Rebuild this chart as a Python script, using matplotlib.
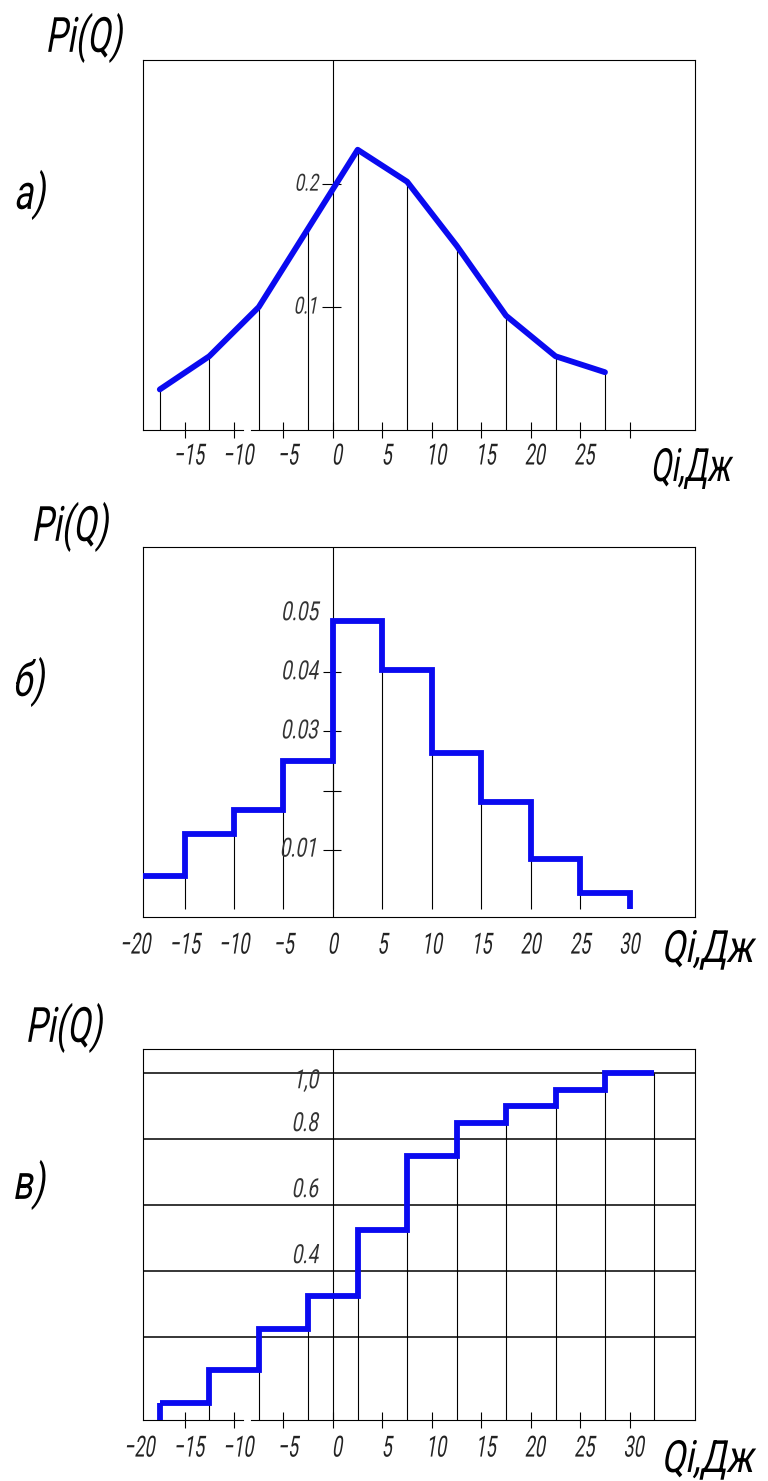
import matplotlib
matplotlib.use('Agg')
import matplotlib.pyplot as plt
from matplotlib.patheffects import AbstractPathEffect
from matplotlib.transforms import Affine2D

# --- data ------------------------------------------------------------
# a) probability polygon, points at the interval midpoints
q_mid = [-17.5, -12.5, -7.5, -2.5, 2.5, 7.5, 12.5, 17.5, 22.5, 27.5]
p_poly = [0.033, 0.060, 0.100, 0.164, 0.228, 0.202, 0.150, 0.093, 0.060, 0.047]

# b) histogram
hist_edges = [-20, -15, -10, -5, 0, 5, 10, 15, 20, 25, 30]
p_hist = [0.0056, 0.0126, 0.0167, 0.0250, 0.0487, 0.0404, 0.0264, 0.0181, 0.0084, 0.0027]

# c) cumulative distribution
cdf_edges = [-17.5, -12.5, -7.5, -2.5, 2.5, 7.5, 12.5, 17.5, 22.5, 27.5, 32.5]
p_cdf = [0.0, 0.10, 0.225, 0.325, 0.525, 0.75, 0.85, 0.90, 0.95, 1.0]

xt_a = [-15, -10, -5, 0, 5, 10, 15, 20, 25, 30]
xl_a = ['−15', '−10', '−5', '0', '5', '10', '15', '20', '25', '']
xt_bc = [-20, -15, -10, -5, 0, 5, 10, 15, 20, 25, 30]
xl_bc = ['−20', '−15', '−10', '−5', '0', '5', '10', '15', '20', '25', '30']

yt_a = [0.1, 0.2]
yl_a = ['0.1', '0.2']
yt_b = [0.01, 0.02, 0.03, 0.04]
yl_b = ['0.01', '', '0.03', '0.04', '0.05']
yl_b_pos = [0.01, 0.02, 0.03, 0.04, 0.05]
grid_c = [0.2, 0.4, 0.6, 0.8, 1.0]
yl_c = ['', '0.4', '0.6', '0.8', '1,0']

BLUE = '#0a0af0'
INK = '#222222'
XMIN, XMAX = -19.2, 36.6


class Narrow(AbstractPathEffect):
    """squeeze and slant glyphs a bit, like a drafting font"""

    def __init__(self, sx=0.6, skew=14, anchor='center'):
        super().__init__()
        self.sx, self.skew, self.anchor = sx, skew, anchor

    def draw_path(self, renderer, gc, tpath, affine, rgbFace=None):
        ext = tpath.get_extents(affine)
        if self.anchor == 'right':
            x0 = ext.x1
        else:
            x0 = (ext.x0 + ext.x1) / 2
        y0 = (ext.y0 + ext.y1) / 2
        t = Affine2D().translate(-x0, -y0).skew_deg(self.skew, 0).scale(self.sx, 1).translate(x0, y0)
        renderer.draw_path(gc, tpath, affine + t, rgbFace)


plt.rcParams['font.family'] = ['Roboto', 'DejaVu Sans']
plt.rcParams['axes.linewidth'] = 0.8

W, H = 768, 1481
fig = plt.figure(figsize=(W / 100, H / 100), dpi=100)


def make_box(top, bottom, ylim):
    ax = fig.add_axes([143 / W, 1 - bottom / H, 552 / W, (bottom - top) / H])
    ax.set_xlim(XMIN, XMAX)
    ax.set_ylim(*ylim)
    ax.set_yticks([])
    ax.axvline(0, color='k', lw=0.8, zorder=1)
    return ax


def broken_axis(ax):
    # bottom line with the small gap next to -10
    ax.spines['bottom'].set_visible(False)
    tr = ax.get_xaxis_transform()
    ax.plot([XMIN, -9.1], [0, 0], color='k', lw=0.8, transform=tr, clip_on=False)
    ax.plot([-8.3, XMAX], [0, 0], color='k', lw=0.8, transform=tr, clip_on=False)


def x_labels(ax, ticks, labels, gap, shift=4):
    for t, s in zip(ticks, labels):
        ax.annotate(s, xy=(t, 0), xycoords=('data', 'axes fraction'), xytext=(shift, -gap),
                    textcoords='offset points', ha='center', va='top', fontsize=21,
                    color=INK, annotation_clip=False, path_effects=[Narrow(0.62)])


def y_label(ax, y, s, dy=0, va='center', size=19):
    ax.annotate(s, xy=(-1.3, y), xytext=(0, dy), textcoords='offset points', ha='right',
                va=va, fontsize=size, color='#333333', path_effects=[Narrow(0.72, anchor='right')])


def fig_text(x, y, s, sx, size=35):
    fig.text(x / W, 1 - y / H, s, ha='center', va='center', fontsize=size, color='k',
             path_effects=[Narrow(sx)])


# ---- a) ----
ax = make_box(60, 430, (0, 0.301))
ax.vlines(q_mid, 0, p_poly, color='k', lw=0.8)
ax.plot(q_mid, p_poly, color=BLUE, lw=4.2, solid_joinstyle='round', solid_capstyle='round', zorder=3)
ax.set_xticks(xt_a, [''] * len(xt_a))
ax.tick_params(axis='x', direction='inout', length=12, width=0.8)
broken_axis(ax)
x_labels(ax, xt_a, xl_a, 9)
ax.hlines(yt_a, -1.1, 0.8, color='k', lw=0.8)
for y, s in zip(yt_a, yl_a):
    y_label(ax, y, s, size=17)
fig_text(86, 38, 'Pi(Q)', 0.7)
fig_text(32, 195, 'а)', 0.72)
fig_text(692, 468, 'Qi,Дж', 0.66, 33)

# ---- b) ----
ax = make_box(547, 917, (-0.0014, 0.0612))
ax.vlines(hist_edges[1:-1], 0, [max(a, b) for a, b in zip(p_hist[:-1], p_hist[1:])], color='k', lw=0.8)
ax.stairs(p_hist, hist_edges, baseline=0, color=BLUE, lw=4.2, zorder=3)
ax.set_xticks([])
x_labels(ax, xt_bc, xl_bc, 10.5, shift=1)
ax.hlines(yt_b, -1.0, 0.8, color='k', lw=0.8)
for y, s in zip(yl_b_pos, yl_b):
    if s:
        y_label(ax, y, s)
fig_text(72, 527, 'Pi(Q)', 0.7)
fig_text(31, 682, 'б)', 0.72)
fig_text(709, 950, 'Qi,Дж', 0.78, 32)

# ---- c) ----
ax = make_box(1049, 1420, (-0.05, 1.074))
ax.hlines(grid_c, XMIN, XMAX, color='k', lw=1.1)
tops = [max(a, b) for a, b in zip(p_cdf[:-1], p_cdf[1:])]
ax.vlines(cdf_edges[1:-1], -0.05, tops, color='k', lw=0.8)
ax.vlines(cdf_edges[-1], -0.05, p_cdf[-1], color='k', lw=0.8)
ax.vlines(cdf_edges[0], -0.05, p_cdf[0], color=BLUE, lw=4.2, zorder=3)
ax.stairs(p_cdf, cdf_edges, baseline=None, color=BLUE, lw=4.2, zorder=3)
ax.set_xticks(xt_bc[1:], [''] * len(xt_bc[1:]))
ax.tick_params(axis='x', direction='inout', length=12, width=0.8)
broken_axis(ax)
x_labels(ax, xt_bc, xl_bc, 10.5)
for y, s in zip(grid_c, yl_c):
    if s == '1,0':
        y_label(ax, y, s, dy=3, va='top')
    elif s:
        y_label(ax, y, s, dy=6, va='baseline')
fig_text(66, 1028, 'Pi(Q)', 0.7)
fig_text(31, 1185, 'в)', 0.72)
fig_text(709, 1460, 'Qi,Дж', 0.78, 32)

fig.savefig('out.png', dpi=100, facecolor='white')
